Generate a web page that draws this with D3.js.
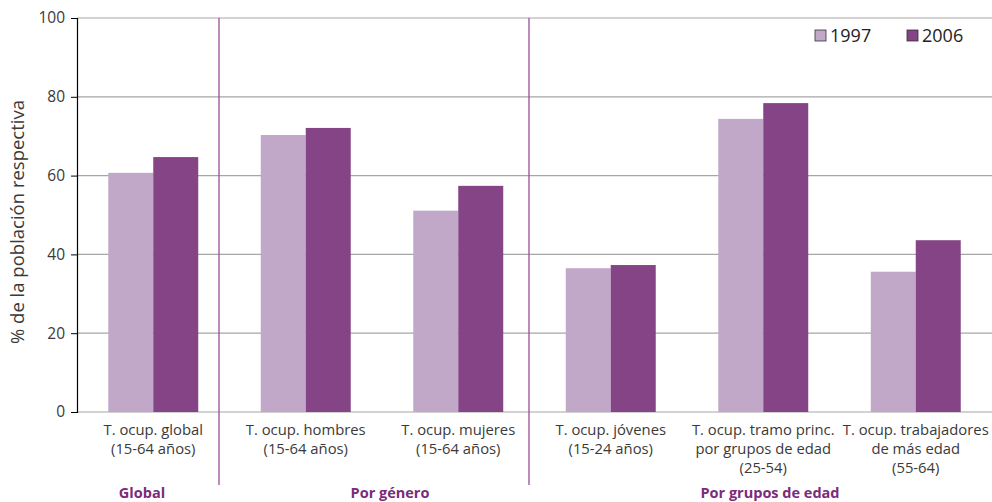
<!DOCTYPE html>
<html><head><meta charset="utf-8">
<script src="https://cdn.jsdelivr.net/npm/d3@7"></script>
<style>body{margin:0;background:#fff}svg{display:block}text{font-family:"Open Sans",Lato,sans-serif}</style>
</head><body><svg id="c" width="992" height="502"></svg>
<script>
const categories = [
  ["T. ocup. global","(15-64 años)"],
  ["T. ocup. hombres","(15-64 años)"],
  ["T. ocup. mujeres","(15-64 años)"],
  ["T. ocup. jóvenes","(15-24 años)"],
  ["T. ocup. tramo princ.","por grupos de edad","(25-54)"],
  ["T. ocup. trabajadores","de más edad","(55-64)"]
];
const series = ["1997","2006"];
const values1997 = [60.7, 70.3, 51.1, 36.5, 74.4, 35.6];
const values2006 = [64.7, 72.1, 57.4, 37.3, 78.4, 43.6];
const yTicks = [0,20,40,60,80,100];
const groups = ["Global","Por género","Por grupos de edad"];

const colors = ["#c1a8c9","#844486"];
const svg = d3.select("#c");
const L=77, R=992, T=18, B=412;
const x = d3.scaleBand().domain(d3.range(categories.length)).range([L,R]).paddingInner(0.41).paddingOuter(0.205);
const xs = d3.scaleBand().domain(series).range([0,x.bandwidth()]);
const y = d3.scaleLinear().domain([0,100]).range([B,T]);

// gridlines
svg.append("g").selectAll("line").data(yTicks).join("line")
  .attr("x1",L).attr("x2",R).attr("y1",d=>y(d)).attr("y2",d=>y(d))
  .attr("stroke","#a6a6a6").attr("stroke-width",1.2);

// bars
const data = [values1997, values2006];
series.forEach((s,si)=>{
  svg.append("g").selectAll("rect").data(data[si]).join("rect")
    .attr("x",(d,i)=>x(i)+xs(s)).attr("width",xs.bandwidth())
    .attr("y",d=>y(d)).attr("height",d=>B-y(d))
    .attr("fill",colors[si]);
});

// y axis
const ya = svg.append("g").attr("transform",`translate(${L},0)`)
  .call(d3.axisLeft(y).tickValues(yTicks).tickSize(6).tickPadding(6));
ya.select(".domain").attr("stroke","#000").attr("stroke-width",1.2);
ya.selectAll(".tick line").attr("stroke","#000");
ya.selectAll("text").attr("font-size",15.5).attr("fill","#3a3a3a").attr("font-family","Lato,sans-serif");

// y title
svg.append("text").attr("transform",`translate(24,${(T+B)/2 + 7}) rotate(-90)`)
  .attr("text-anchor","middle").attr("font-size",18.5).attr("fill","#3a3a3a")
  .text("% de la población respectiva");

// category labels
const cl = svg.append("g");
categories.forEach((lines,i)=>{
  const t = cl.append("text").attr("text-anchor","middle").attr("font-size",14.8).attr("fill","#3a3a3a");
  lines.forEach((ln,j)=>t.append("tspan").attr("x",x(i)+x.bandwidth()/2).attr("y",435+j*19).text(ln));
});

// separators
[219,529].forEach(sx=>{
  svg.append("line").attr("x1",sx).attr("x2",sx).attr("y1",T).attr("y2",485)
    .attr("stroke","#9a4c9c").attr("stroke-width",1.3);
});

// group labels
const groupCenters = [142, 390, 770];
groups.forEach((g,gi)=>{
  svg.append("text").attr("x",groupCenters[gi]).attr("y",498).attr("text-anchor","middle")
    .attr("font-size",14.5).attr("font-weight","bold").attr("fill","#7a2b7c").text(g);
});

// legend
const legX=[815,907];
series.forEach((s,si)=>{
  svg.append("rect").attr("x",legX[si]).attr("y",30).attr("width",11).attr("height",11)
    .attr("fill",colors[si]).attr("stroke","#333").attr("stroke-width",0.8);
  svg.append("text").attr("x",legX[si]+15).attr("y",42).attr("font-size",18)
    .attr("font-family","Lato,sans-serif").attr("fill","#222").text(s);
});
</script></body></html>
